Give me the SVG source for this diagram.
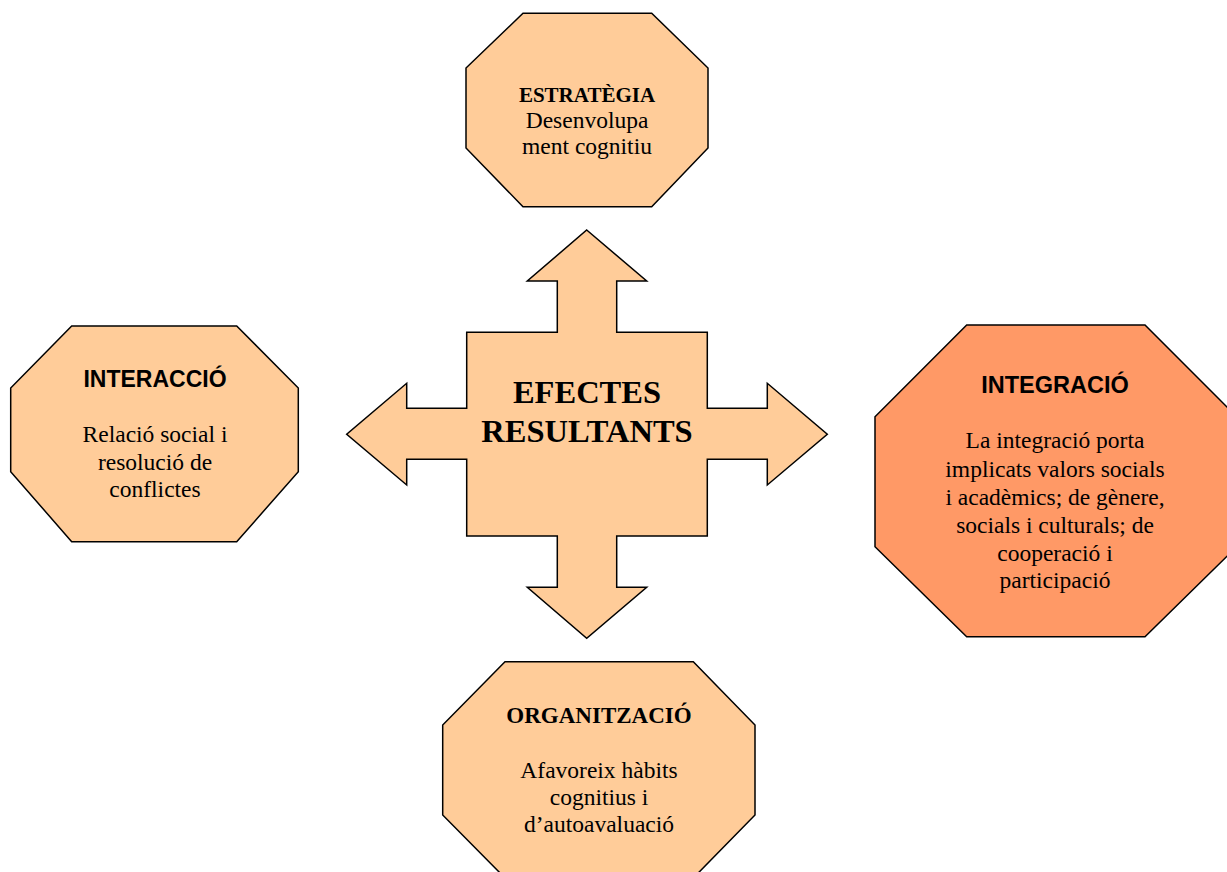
<svg xmlns="http://www.w3.org/2000/svg" width="1227" height="872" viewBox="0 0 1227 872">
<style>
.shape{fill:#FFCC99;stroke:#000;stroke-width:1.5;stroke-linejoin:miter}
.hot{fill:#FF9966}
.tb{font-family:"Liberation Serif","Times New Roman",serif;font-weight:bold;fill:#000;text-anchor:middle}
.ab{font-family:"Liberation Sans",Arial,sans-serif;font-weight:bold;fill:#000;text-anchor:middle}
.tr{font-family:"Liberation Serif","Times New Roman",serif;fill:#000;text-anchor:middle;font-size:23.5px}
</style>
<rect width="1227" height="872" fill="#fff"/>
<g id="connectors">
<g id="center">
<polygon class="shape" points="586.7,230 646.7,281 616.7,281 616.7,332.3 707.3,332.3 707.3,408.3 767.3,408.3 767.3,383.3 827.3,434.3 767.3,485 767.3,459.3 707.3,459.3 707.3,536 616.7,536 616.7,587.3 646.7,587.3 586.7,638.3 527.3,587.3 557.3,587.3 557.3,536 466.7,536 466.7,459.3 406.7,459.3 406.7,485 346.7,434.3 406.7,383.3 406.7,408.3 466.7,408.3 466.7,332.3 557.3,332.3 557.3,281 527.3,281"/>
<text class="tb" x="587" y="403" font-size="32.5">EFECTES</text>
<text class="tb" x="587" y="442" font-size="32.5">RESULTANTS</text>
</g>
</g>
<g id="estrategia">
<polygon class="shape" points="523,13.3 651.7,13.3 708,68 708,148 651.7,206.7 523,206.7 466,148 466,68"/>
<text class="tb" x="587" y="101.7" font-size="21">ESTRATÈGIA</text>
<text class="tr" x="587" y="128">Desenvolupa</text>
<text class="tr" x="587" y="154">ment cognitiu</text>
</g>
<g id="interaccio">
<polygon class="shape" points="71.7,326 236.7,326 298.3,388 298.3,471.7 236.7,541.7 71.7,541.7 10.7,471.7 10.7,388"/>
<text class="ab" x="155" y="386.7" font-size="23">INTERACCIÓ</text>
<text class="tr" x="155" y="441.7" font-size="24">Relació social i</text>
<text class="tr" x="155" y="470" font-size="24">resolució de</text>
<text class="tr" x="155" y="496.7" font-size="24">conflictes</text>
</g>
<g id="integracio">
<polygon class="shape hot" points="966.7,325 1145,325 1236.7,416.7 1236.7,546.7 1145,636.7 966.7,636.7 875,546.7 875,416.7"/>
<text class="ab" x="1055" y="393.3" font-size="23.5">INTEGRACIÓ</text>
<text class="tr" x="1055" y="448.3" font-size="24">La integració porta</text>
<text class="tr" x="1055" y="476.7" font-size="24">implicats valors socials</text>
<text class="tr" x="1055" y="505" font-size="24">i acadèmics; de gènere,</text>
<text class="tr" x="1055" y="532.7" font-size="24">socials i culturals; de</text>
<text class="tr" x="1055" y="560.7" font-size="24">cooperació i</text>
<text class="tr" x="1055" y="588.3" font-size="24">participació</text>
</g>
<g id="organitzacio">
<polygon class="shape" points="505,661.7 693.3,661.7 755,725 755,815 693.3,878 505,878 442.7,815 442.7,725"/>
<text class="tb" x="599" y="723.3" font-size="23">ORGANITZACIÓ</text>
<text class="tr" x="599" y="778.3" font-size="24">Afavoreix hàbits</text>
<text class="tr" x="599" y="805" font-size="24">cognitius i</text>
<text class="tr" x="599" y="831.7" font-size="24">d’autoavaluació</text>
</g>
</svg>
